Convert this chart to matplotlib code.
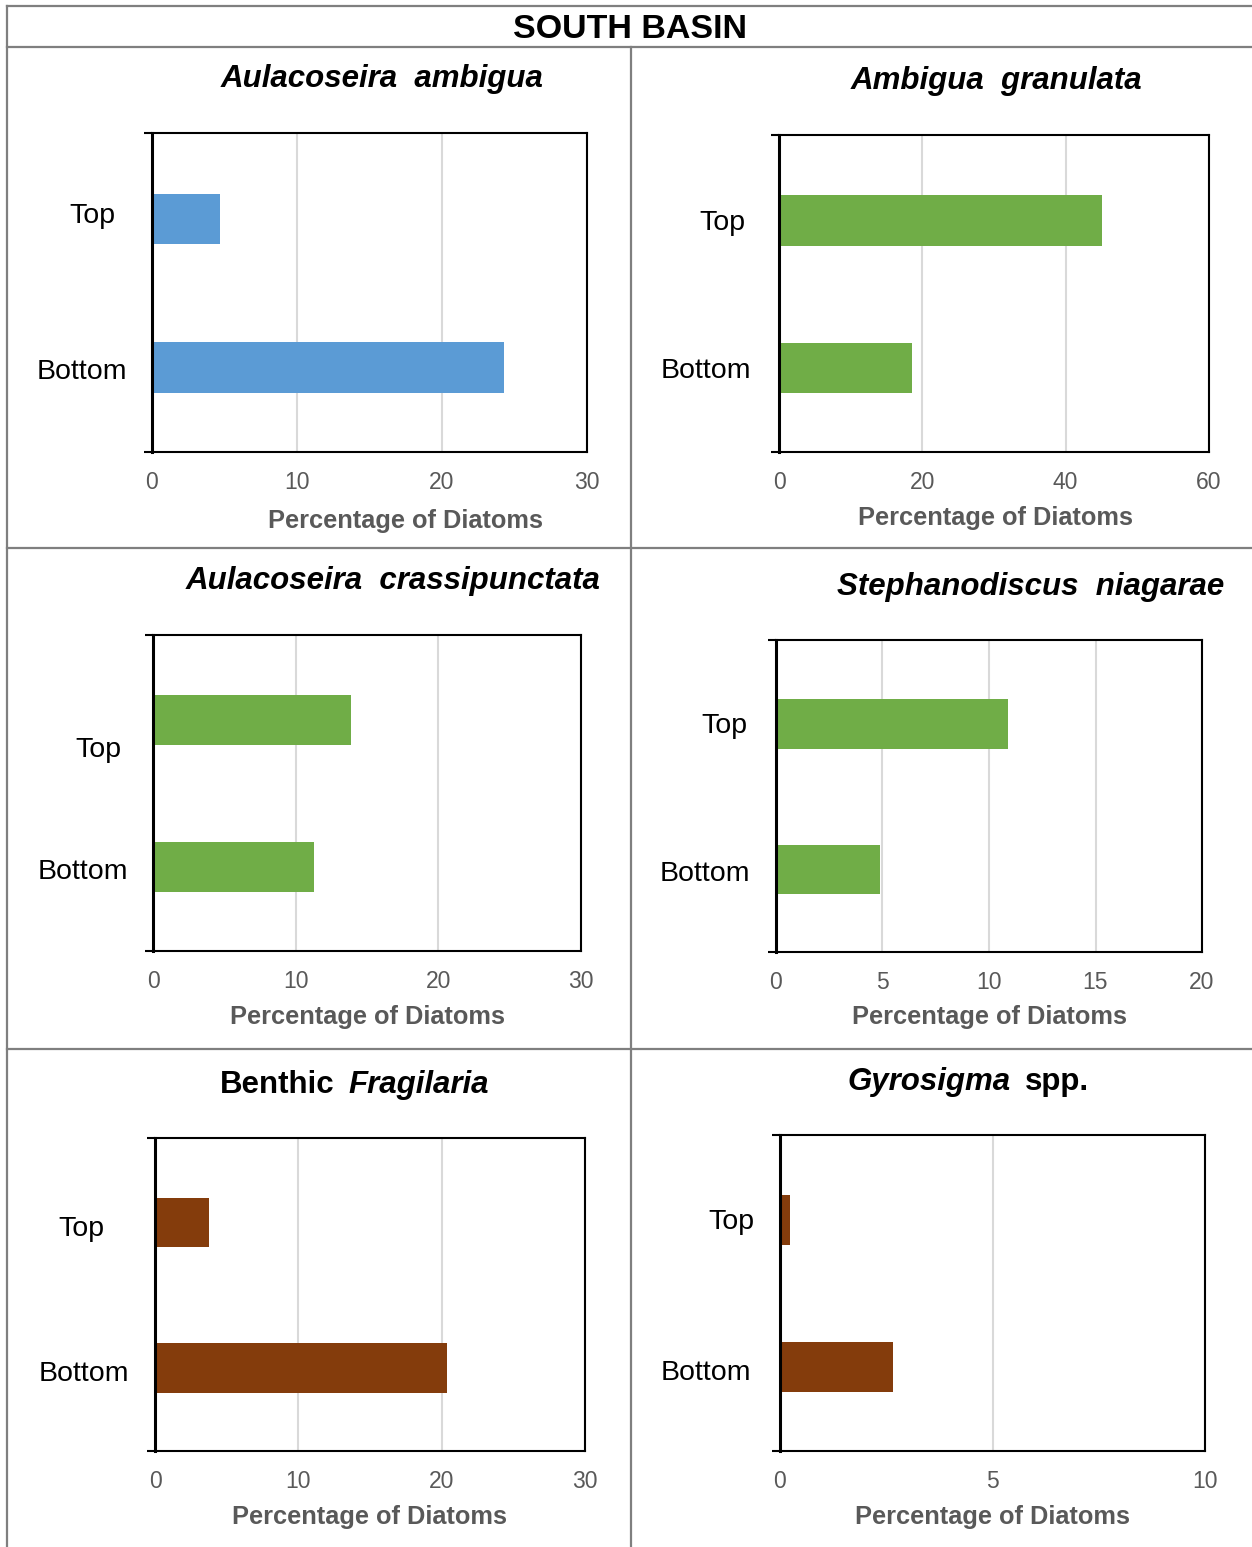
import numpy as np
import matplotlib
matplotlib.use('Agg')
from matplotlib import pyplot as plt
from matplotlib.lines import Line2D

plt.rcParams['font.family'] = ['Liberation Sans', 'DejaVu Sans']

# data
title_parts = [
    [('Aulacoseira  ambigua', 'italic')],
    [('Ambigua  granulata', 'italic')],
    [('Aulacoseira  crassipunctata', 'italic')],
    [('Stephanodiscus  niagarae', 'italic')],
    [('Benthic', 'normal'), ('Fragilaria', 'italic')],
    [('Gyrosigma', 'italic'), ('spp.', 'normal')],
]
categories = ['Bottom', 'Top']
top_vals = [4.7, 45.1, 13.9, 10.9, 3.8, 0.24]
bottom_vals = [24.3, 18.6, 11.3, 4.9, 20.4, 2.65]
x_max = [30, 60, 30, 20, 30, 10]
x_step = [10, 20, 10, 5, 10, 5]
bar_colors = ['#5B9BD5', '#70AD47', '#70AD47', '#70AD47', '#843C0C', '#843C0C']
xlabel = 'Percentage of Diatoms'

# layout in pixels (left, top, right, bottom)
W, H = 1252, 1547
ax_boxes = [(152, 133, 587, 452), (779, 135, 1209, 452),
            (153, 635, 581, 951), (776, 640, 1202, 952),
            (155, 1138, 585, 1451), (780, 1135, 1205, 1451)]
title_pos = [(382, 79), (996, 81), (393, 581), (1031, 587), (354, 1085), (968, 1082)]
xlabel_pos = [(405, 521), (995, 518), (368, 1017), (990, 1017), (370, 1517), (993, 1517)]
top_lab_pos = [(92, 216), (722, 223), (98, 750), (724, 726), (81, 1229), (731, 1222)]
bot_lab_pos = [(82, 372), (706, 371), (83, 872), (705, 874), (84, 1374), (706, 1373)]

fig = plt.figure(figsize=(W / 100, H / 100), dpi=100)
renderer = fig.canvas.get_renderer()

def fx(x):
    return x / W

def fy(y):
    return 1 - y / H

# table grid
grid_col = '#7F7F7F'
for (x0, y0, x1, y1) in [(7, 6, 1252, 6), (7, 47, 1252, 47), (7, 548, 1252, 548),
                         (7, 1049, 1252, 1049), (7, 6, 7, 1547), (631, 47, 631, 1547)]:
    fig.add_artist(Line2D([fx(x0), fx(x1)], [fy(y0), fy(y1)], color=grid_col, lw=1.6))

fig.text(fx(630), fy(29), 'SOUTH BASIN', fontsize=24.5, fontweight='bold',
         ha='center', va='center')

def mixed_title(xc, yc, parts, size=22.5):
    texts, widths = [], []
    for s, style in parts:
        t = fig.text(0, fy(yc), s, fontsize=size, fontweight='bold', style=style,
                     ha='left', va='center')
        texts.append(t)
        widths.append(t.get_window_extent(renderer).width)
    gap = 14
    total = sum(widths) + gap * (len(parts) - 1)
    x = xc - total / 2
    for t, w in zip(texts, widths):
        t.set_x(fx(x))
        x += w + gap

ypos = np.arange(len(categories))
for i in range(6):
    l, t, r, b = ax_boxes[i]
    ax = fig.add_axes([fx(l), fy(b), (r - l) / W, (b - t) / H])
    ax.barh(ypos, [bottom_vals[i], top_vals[i]], height=0.34, color=bar_colors[i], zorder=3)
    ax.set_xlim(0, x_max[i])
    ax.set_ylim(-0.57, 1.58)
    ax.set_xticks(np.arange(0, x_max[i] + 0.01, x_step[i]))
    ax.tick_params(axis='x', length=0, pad=14, labelsize=16.5, labelcolor='#595959')
    ax.set_yticks([-0.57, 1.58])
    ax.set_yticklabels([])
    ax.tick_params(axis='y', length=6, width=1.5, color='black')
    ax.grid(axis='x', color='#D9D9D9', lw=1.5, zorder=0)
    for side in ['top', 'right', 'bottom']:
        ax.spines[side].set_linewidth(1.5)
        ax.spines[side].set_color('black')
    ax.spines['left'].set_linewidth(2.2)
    ax.spines['left'].set_zorder(4)

    mixed_title(title_pos[i][0], title_pos[i][1], title_parts[i])
    fig.text(fx(xlabel_pos[i][0]), fy(xlabel_pos[i][1]), xlabel, fontsize=18.3,
             fontweight='bold', color='#595959', ha='center', va='center')
    fig.text(fx(top_lab_pos[i][0]), fy(top_lab_pos[i][1]), categories[1], fontsize=20.5,
             ha='center', va='center')
    fig.text(fx(bot_lab_pos[i][0]), fy(bot_lab_pos[i][1]), categories[0], fontsize=20.5,
             ha='center', va='center')

fig.savefig('out.png', dpi=100, facecolor='white')
